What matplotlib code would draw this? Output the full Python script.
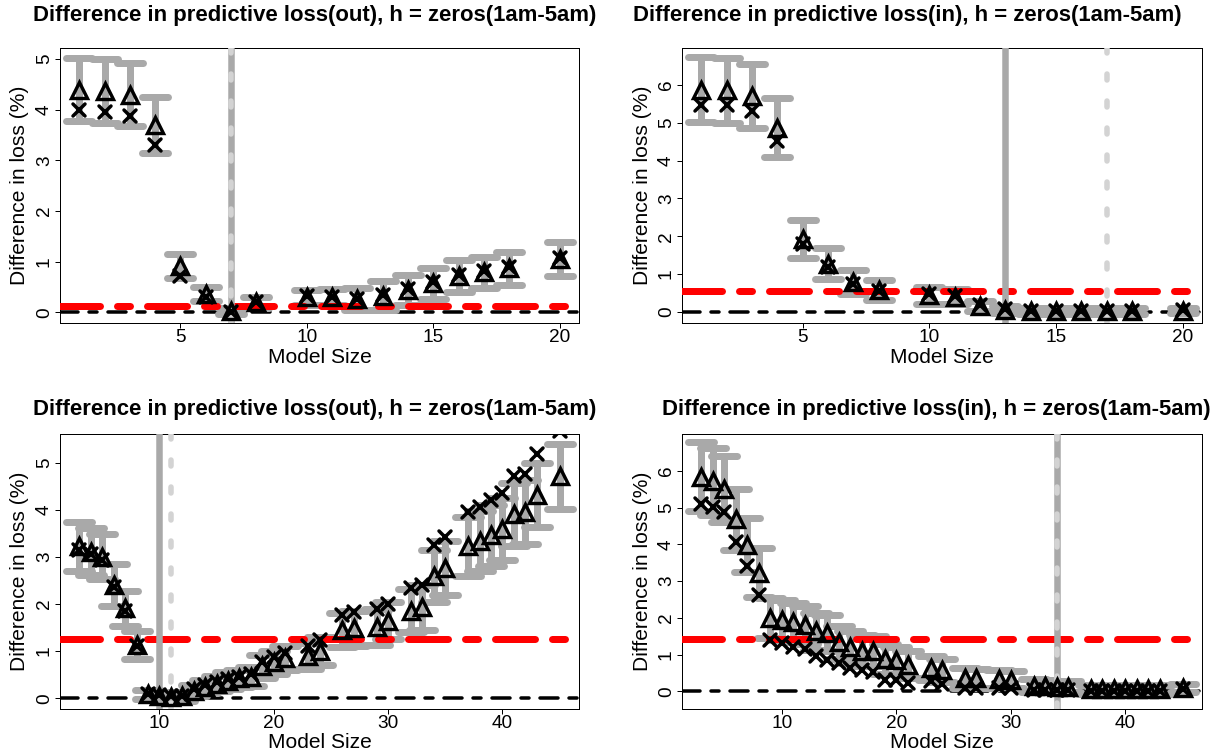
import matplotlib
matplotlib.use("Agg")
import matplotlib.pyplot as plt
import numpy as np
from matplotlib.markers import MarkerStyle

plt.rcParams["font.family"] = ["Liberation Sans", "DejaVu Sans"]
plt.rcParams["lines.scale_dashes"] = False

W, H = 1226, 753

# --- data ------------------------------------------------------------------
x_top = [1, 2, 3, 4, 5, 6, 7, 8, 10, 11, 12, 13, 14, 15, 16, 17, 18, 20]

tri_out_top = [4.40, 4.37, 4.30, 3.70, 0.92, 0.37, 0.02, 0.20, 0.30, 0.30,
               0.26, 0.33, 0.44, 0.57, 0.72, 0.79, 0.87, 1.05]
cross_out_top = [4.00, 3.95, 3.88, 3.31, 0.72, 0.31, 0.00, 0.21, 0.32, 0.31,
                 0.27, 0.35, 0.46, 0.59, 0.74, 0.81, 0.89, 1.07]
err_out_top = [0.63, 0.64, 0.62, 0.56, 0.24, 0.14, 0.06, 0.11, 0.15, 0.16,
               0.22, 0.29, 0.29, 0.30, 0.31, 0.30, 0.32, 0.34]

tri_in_top = [5.87, 5.85, 5.70, 4.87, 1.93, 1.28, 0.80, 0.58, 0.44, 0.40,
              0.16, 0.06, 0.03, 0.03, 0.03, 0.03, 0.03, 0.04]
cross_in_top = [5.47, 5.46, 5.30, 4.52, 1.80, 1.20, 0.74, 0.55, 0.47, 0.42,
                0.18, 0.07, 0.04, 0.04, 0.04, 0.04, 0.04, 0.05]
err_in_top = [0.86, 0.86, 0.84, 0.77, 0.50, 0.40, 0.32, 0.27, 0.22, 0.20,
              0.14, 0.09, 0.07, 0.07, 0.07, 0.07, 0.07, 0.07]

x_bot = [3, 4, 5, 6, 7, 8, 9, 10, 11, 12, 13, 14, 15, 16, 17, 18, 19, 20, 21,
         23, 24, 26, 27, 29, 30, 32, 33, 34, 35, 37, 38, 39, 40, 41, 42, 43, 45]

tri_out_bot = [3.23, 3.12, 3.01, 2.41, 1.91, 1.13, 0.08, 0.05, 0.03, 0.04,
               0.16, 0.24, 0.31, 0.37, 0.42, 0.46, 0.68, 0.76, 0.85, 0.90,
               1.01, 1.45, 1.49, 1.52, 1.65, 1.86, 1.93, 2.60, 2.77, 3.23,
               3.35, 3.47, 3.60, 3.91, 3.96, 4.33, 4.72]
cross_out_bot = [3.16, 3.06, 2.94, 2.36, 1.86, 1.10, 0.09, 0.06, 0.04, 0.05,
                 0.19, 0.27, 0.35, 0.41, 0.46, 0.51, 0.78, 0.88, 0.97, 1.10,
                 1.24, 1.78, 1.84, 1.89, 2.00, 2.34, 2.41, 3.25, 3.42, 3.96,
                 4.06, 4.22, 4.36, 4.72, 4.77, 5.19, 5.69]
err_out_bot = [0.52, 0.50, 0.48, 0.44, 0.37, 0.29, 0.10, 0.08, 0.08, 0.09,
               0.12, 0.14, 0.16, 0.18, 0.19, 0.20, 0.24, 0.25, 0.26, 0.28,
               0.30, 0.36, 0.37, 0.38, 0.40, 0.46, 0.47, 0.55, 0.57, 0.63,
               0.64, 0.65, 0.66, 0.67, 0.68, 0.68, 0.69]

tri_in_bot = [5.84, 5.71, 5.50, 4.68, 3.99, 3.23, 1.99, 1.95, 1.88, 1.81,
              1.63, 1.59, 1.33, 1.20, 1.11, 1.09, 0.88, 0.84, 0.73, 0.64,
              0.57, 0.36, 0.35, 0.34, 0.32, 0.15, 0.14, 0.13, 0.12, 0.06,
              0.06, 0.06, 0.06, 0.06, 0.06, 0.06, 0.09]
cross_in_bot = [5.10, 5.01, 4.89, 4.05, 3.40, 2.63, 1.40, 1.31, 1.22, 1.15,
                0.95, 0.86, 0.77, 0.64, 0.57, 0.54, 0.32, 0.32, 0.23, 0.27,
                0.20, 0.09, 0.09, 0.09, 0.08, 0.05, 0.05, 0.04, 0.04, 0.02,
                0.02, 0.02, 0.02, 0.02, 0.02, 0.02, 0.07]
err_in_bot = [0.94, 0.92, 0.90, 0.83, 0.73, 0.67, 0.55, 0.54, 0.53, 0.52,
              0.50, 0.48, 0.45, 0.43, 0.42, 0.41, 0.40, 0.38, 0.37, 0.33,
              0.32, 0.27, 0.26, 0.25, 0.24, 0.18, 0.17, 0.16, 0.15, 0.12,
              0.12, 0.12, 0.12, 0.12, 0.12, 0.12, 0.12]

# reference (red) level, and the two vertical markers per panel
red_level = {"out_top": 0.13, "in_top": 0.55, "out_bot": 1.26, "in_bot": 1.43}
vline_solid = {"out_top": 7, "in_top": 13, "out_bot": 10, "in_bot": 34}
vline_dash = {"out_top": 7, "in_top": 17, "out_bot": 11, "in_bot": 34}

title_out = "Difference in predictive loss(out), h = zeros(1am-5am)"
title_in = "Difference in predictive loss(in), h = zeros(1am-5am)"

GREY = "#a9a9a9"
LIGHT = "#d3d3d3"
PX = 0.72  # points per pixel at 100 dpi

fig = plt.figure(figsize=(W / 100, H / 100), dpi=100)


def add_axes(l, t, r, b):
    return fig.add_axes([l / W, 1 - b / H, (r - l) / W, (b - t) / H])


def panel(ax, key, x, tri, cross, err, xlim, ylim, xticks, yticks):
    x = np.asarray(x, float)
    tri = np.asarray(tri)
    lo, hi = tri - np.asarray(err), tri + np.asarray(err)

    # zero line and red reference line
    ax.axhline(0, color="black", lw=3.5 * PX, dash_capstyle="round",
               linestyle=(0, (18 * PX, 11 * PX, 8 * PX, 11 * PX)), zorder=1.5)
    # error bars
    ax.vlines(x, lo, hi, color=GREY, lw=7 * PX, zorder=2)
    cap = MarkerStyle("_", capstyle="round")
    ax.plot(x, lo, ls="none", marker=cap, ms=26 * PX, mew=7 * PX, color=GREY, zorder=2)
    ax.plot(x, hi, ls="none", marker=cap, ms=26 * PX, mew=7 * PX, color=GREY, zorder=2)
    ax.axhline(red_level[key], color="red", lw=7 * PX, dash_capstyle="round",
               linestyle=(0, (40 * PX, 17 * PX, 13 * PX, 17 * PX)), zorder=3)
    ax.axvline(vline_solid[key], color=GREY, lw=6.5 * PX, zorder=3)
    ax.axvline(vline_dash[key], color=LIGHT, lw=5.5 * PX, dash_capstyle="round",
               linestyle=(0, (6 * PX, 21 * PX)), zorder=3.1)
    # points
    ax.plot(x, cross, ls="none", marker=MarkerStyle("x", capstyle="round"),
            ms=12 * PX, mew=3.5 * PX, color="black", zorder=4)
    ax.plot(x, tri, ls="none", marker="^", ms=16 * PX, mew=3.4 * PX,
            mfc="none", mec="black", zorder=4)

    ax.set_xlim(*xlim)
    ax.set_ylim(*ylim)
    ax.set_xticks(xticks)
    ax.set_yticks(yticks)
    ax.tick_params(length=5 * PX, width=1 * PX, labelsize=19 * PX)
    ax.tick_params(axis="x", pad=1 * PX)
    ax.tick_params(axis="y", pad=2 * PX, labelrotation=90)
    for t in ax.get_yticklabels():
        t.set_va("center")
    for s in ax.spines.values():
        s.set_linewidth(1 * PX)
    ax.set_xlabel("Model Size", fontsize=21 * PX)
    ax.set_ylabel("Difference in loss (%)", fontsize=21 * PX)
    bb = ax.get_position()
    ax.xaxis.set_label_coords(0.5, -34 / (bb.height * H))
    ax.xaxis.label.set_va("center")
    ax.yaxis.set_label_coords(-40 / (bb.width * W), 0.5)
    ax.yaxis.label.set_va("center")


ax1 = add_axes(60, 48, 579, 323)
panel(ax1, "out_top", x_top, tri_out_top, cross_out_top, err_out_top,
      (0.24, 20.76), (-0.21, 5.22), [5, 10, 15, 20], range(0, 6))
ax2 = add_axes(682, 48, 1202, 323)
panel(ax2, "in_top", x_top, tri_in_top, cross_in_top, err_in_top,
      (0.24, 20.76), (-0.29, 6.97), [5, 10, 15, 20], range(0, 7))
ax3 = add_axes(60, 434, 579, 709)
panel(ax3, "out_bot", x_bot, tri_out_bot, cross_out_bot, err_out_bot,
      (1.3, 46.7), (-0.23, 5.62), [10, 20, 30, 40], range(0, 6))
ax4 = add_axes(682, 434, 1202, 709)
panel(ax4, "in_bot", x_bot, tri_in_bot, cross_in_bot, err_in_bot,
      (1.3, 46.7), (-0.48, 7.0), [10, 20, 30, 40], range(0, 7))

tkw = dict(ha="left", va="center", fontweight="bold", fontsize=22.2 * PX)
fig.text(33 / W, 1 - 16 / H, title_out, **tkw)
fig.text(633 / W, 1 - 16 / H, title_in, **tkw)
fig.text(33 / W, 1 - 410 / H, title_out, **tkw)
fig.text(662 / W, 1 - 410 / H, title_in, **tkw)

fig.savefig("out.png", dpi=100)
